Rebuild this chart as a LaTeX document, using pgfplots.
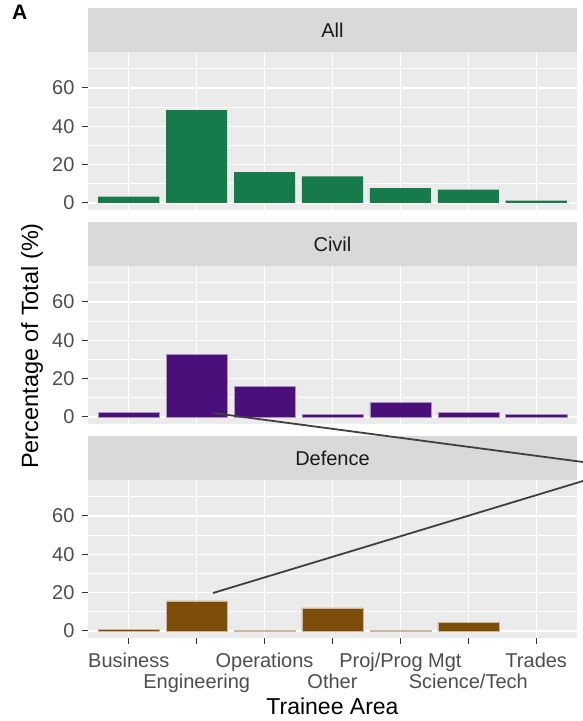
\documentclass[border=0pt]{standalone}
\usepackage{fontspec}
\setmainfont{Liberation Sans}
\usepackage{pgfplots}
\pgfplotsset{compat=1.18}
\definecolor{panelbg}{HTML}{EBEBEB}
\definecolor{stripbg}{HTML}{D9D9D9}
\definecolor{txt30}{HTML}{4D4D4D}
\definecolor{txt10}{HTML}{1A1A1A}
\definecolor{tick20}{HTML}{333333}
\definecolor{cAll}{HTML}{177A4A}
\definecolor{cCivil}{HTML}{4A0F78}
\definecolor{cDef}{HTML}{7C4E0A}
\newcommand{\tickfont}{\fontsize{20}{22}\selectfont}
\newcommand{\Afont}{\fontsize{21}{23}\selectfont\bfseries}
\pgfplotsset{
  facet/.style={
    scale only axis, width=489pt, height=158pt, anchor=north west,
    xmin=0.4, xmax=7.6, ymin=-3.75, ymax=78.75,
    axis background/.style={fill=panelbg},
    axis line style={draw=none},
    xmajorgrids, ymajorgrids, yminorgrids,
    major grid style={white, line width=1.4pt},
    minor grid style={white, line width=0.7pt},
    ytick={0,20,40,60}, minor ytick={10,30,50,70},
    xtick={1,...,7}, xticklabels={},
    ytick pos=left, xtick pos=bottom,
    tick align=outside, major tick length=6pt, minor tick length=0pt,
    ytick style={draw=tick20, line width=1.1pt},
    xtick style={draw=none},
    yticklabel style={font=\tickfont, text=txt30, xshift=-4pt},
    xticklabel style={font=\tickfont, text=txt30, yshift=-5pt},
    /pgf/number format/assume math mode=true,
    ybar, bar width=0.9,
  }
}
\begin{document}
\begin{tikzpicture}
\path[use as bounding box] (0,0) rectangle (583pt,-721pt);
% panel A label
\node[anchor=base west, inner sep=0pt, font=\Afont] at (12pt,-19pt) {A};

% strips
\foreach \ytop/\lab in {8/All, 222/Civil, 436/Defence}{
  \fill[stripbg] (88pt,-\ytop pt) rectangle (577pt,{-(\ytop+44)*1pt});
  \node[font=\tickfont, text=txt10] at (332.5pt,{-(\ytop+22)*1pt}) {\lab};
}

% All
\begin{axis}[facet, at={(88pt,-52pt)}]
\addplot[fill=cAll, draw=none] coordinates {(1,3.2) (2,48.4) (3,16.0) (4,13.8) (5,7.7) (6,6.9) (7,1.2)};
\end{axis}

% Civil
\begin{axis}[facet, at={(88pt,-266pt)}]
\addplot[fill=cCivil, draw=cCivil!45!white, line width=0.5pt] coordinates {(1,2.5) (2,32.8) (3,15.9) (4,1.2) (5,7.6) (6,2.4) (7,1.1)};
\end{axis}

% Defence
\begin{axis}[facet, at={(88pt,-480pt)},
  xtick={1,3,5,7},
  xticklabels={Business,Operations,Proj/Prog Mgt,Trades},
  xtick style={draw=tick20, line width=1.1pt},
  extra x ticks={2,4,6},
  extra x tick labels={Engineering,Other,Science/Tech},
  extra x tick style={grid=major, xtick style={draw=tick20, line width=1.1pt},
     xticklabel style={yshift=-21.5pt}},
]
\addplot[fill=cDef, draw=cDef!40!white, line width=0.5pt] coordinates {(1,0.7) (2,15.6) (3,0.15) (4,12.0) (5,0.15) (6,4.5)};
\end{axis}

% axis titles
\node[anchor=base, font=\fontsize{23}{25}\selectfont] at (332.5pt,-714pt) {Trainee Area};
\node[anchor=base, rotate=90, font=\fontsize{23.5}{25}\selectfont] at (38pt,-346pt) {Percentage of Total (\%)};

% zoom lines
\draw[color=black!75, line width=1.8pt] (213pt,-413pt) -- (583pt,-462pt);
\draw[color=black!75, line width=1.8pt] (213pt,-593pt) -- (583pt,-481pt);
\end{tikzpicture}
\end{document}
